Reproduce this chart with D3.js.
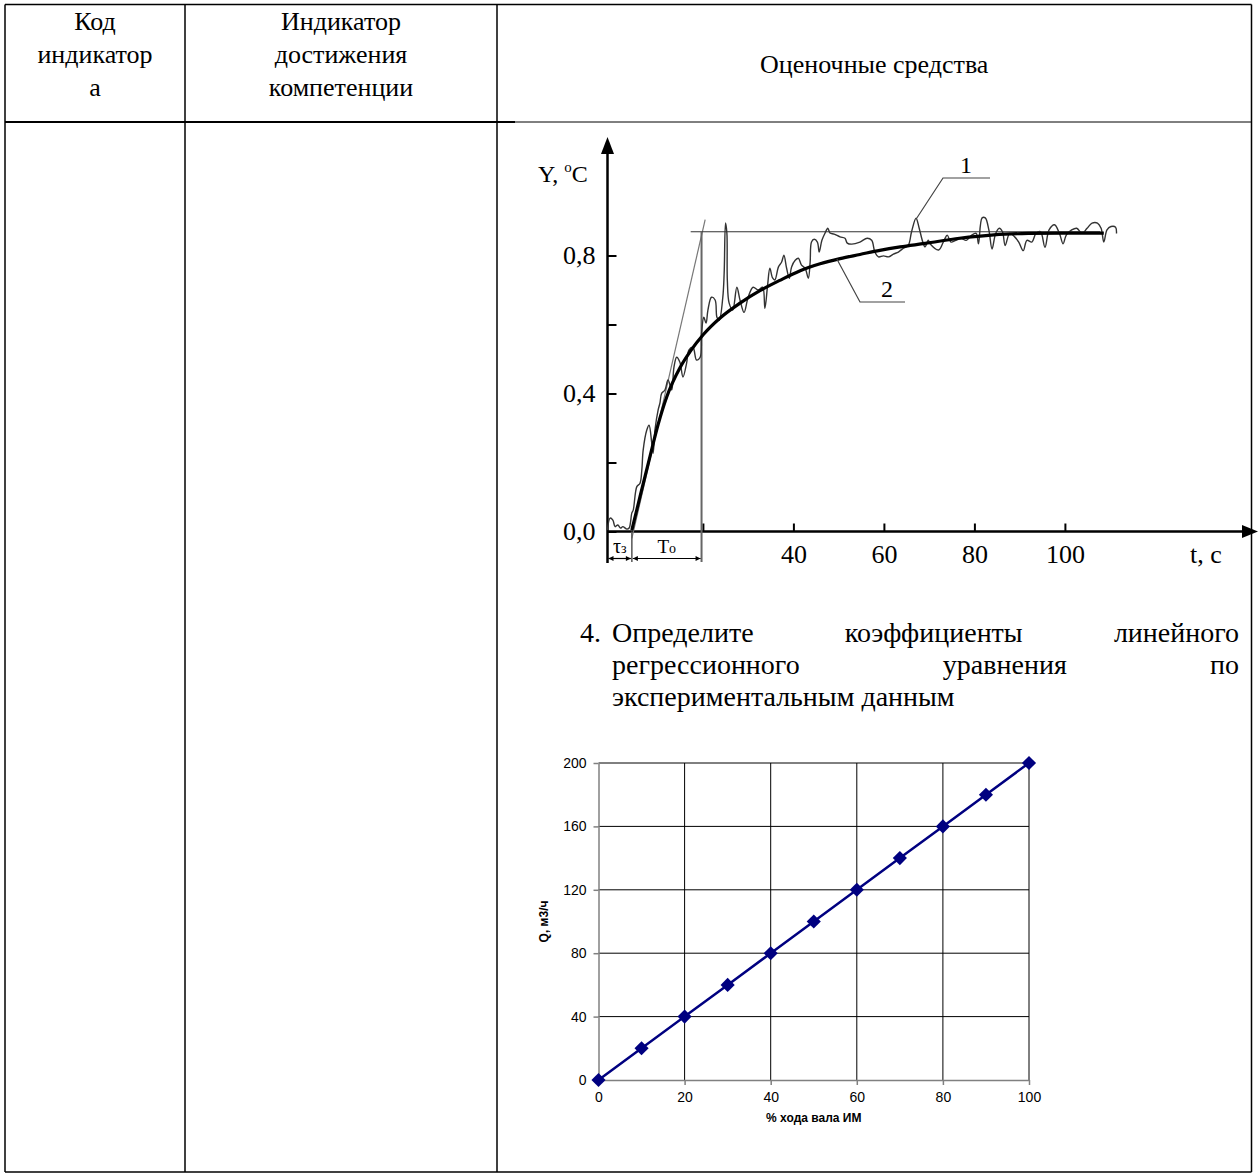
<!DOCTYPE html>
<html>
<head>
<meta charset="utf-8">
<script src="https://cdn.jsdelivr.net/npm/d3@7"></script>
<style>
body{margin:0;background:#fff}
svg{display:block}
</style>
</head>
<body>
<svg id="page" width="1259" height="1176"></svg>
<script>
// ---------- data ----------
var headCells = [["Код", "индикатор", "а"], ["Индикатор", "достижения", "компетенции"], ["Оценочные средства"]];

// transient response: noisy record (1) and smoothed curve (2)
var noisyT = [-1.1,-0.5,0.1,0.6,1.2,1.8,2.3,3.2,3.7,4.3,4.6,5.4,6.1,6.5,6.8,7.6,8.1,8.7,9.0,9.4,10.1,10.5,10.9,11.6,12.3,13.1,13.6,14.2,14.9,15.6,16.4,16.9,17.8,18.6,19.4,19.7,20.2,20.7,21.1,21.9,22.7,23.1,23.6,24.4,24.7,25.0,25.3,25.4,25.8,26.6,27.5,28.2,29.1,30.0,31.1,32.2,33.2,33.7,34.3,34.8,35.4,35.9,36.7,37.4,37.9,38.5,39.1,39.6,40.4,41.1,41.8,42.6,43.3,43.7,44.0,44.6,45.3,45.7,46.3,47.0,47.6,48.1,49.0,50.3,51.4,51.9,52.9,54.7,56.3,57.3,58.0,58.8,59.9,61.0,62.1,63.2,64.3,65.4,66.1,67.1,67.8,68.6,69.1,69.8,70.2,72.1,73.3,74.0,74.8,75.9,77.1,78.2,79.4,80.4,80.9,81.7,82.4,83.2,83.9,84.7,85.5,86.2,86.8,87.8,88.9,89.8,90.8,91.6,92.7,93.6,94.6,95.6,96.5,97.7,98.8,99.6,100.3,101.5,102.6,103.8,104.9,106.0,107.2,108.0,108.6,109.3,110.2,111.2,111.4];
var noisyY = [0.004,0.039,0.033,0.014,0.019,0.010,0.014,0.007,0.010,0.054,0.062,0.130,0.140,0.178,0.236,0.294,0.308,0.256,0.227,0.294,0.352,0.372,0.401,0.410,0.439,0.410,0.476,0.505,0.491,0.448,0.488,0.526,0.534,0.497,0.505,0.575,0.621,0.604,0.641,0.679,0.671,0.621,0.612,0.679,0.749,0.894,0.865,0.728,0.662,0.642,0.708,0.671,0.635,0.679,0.708,0.700,0.708,0.647,0.714,0.763,0.735,0.729,0.767,0.781,0.801,0.763,0.734,0.767,0.786,0.792,0.772,0.763,0.734,0.781,0.839,0.847,0.839,0.810,0.844,0.865,0.879,0.865,0.862,0.854,0.850,0.836,0.833,0.839,0.850,0.844,0.810,0.796,0.799,0.796,0.804,0.810,0.821,0.830,0.868,0.908,0.879,0.839,0.825,0.844,0.834,0.816,0.844,0.859,0.839,0.844,0.849,0.844,0.859,0.864,0.834,0.909,0.909,0.874,0.819,0.864,0.879,0.869,0.829,0.864,0.854,0.839,0.814,0.844,0.839,0.864,0.869,0.824,0.874,0.889,0.864,0.834,0.859,0.874,0.879,0.864,0.879,0.894,0.894,0.879,0.839,0.874,0.884,0.882,0.864];
var smoothT = [4.3,6.1,8.3,10.1,12.0,14.9,17.2,20.1,23.8,28.2,32.6,37.0,41.5,45.9,50.3,54.7,59.1,63.6,69.1,76.7,84.3,91.9,99.6,108.6];
var smoothY = [0.004,0.101,0.217,0.310,0.390,0.474,0.522,0.571,0.619,0.662,0.698,0.728,0.756,0.776,0.791,0.803,0.815,0.825,0.835,0.850,0.860,0.864,0.865,0.865];
var tangentT = [4.3, 20.5];
var tangentY = [-0.02, 0.904];
var steadyT = [17.3, 107.8];
var steadyY = 0.869;
var tauT = 4.3;     // dead time end
var t0EndT = 19.7;  // tau + T0
var tTicks = [20, 40, 60, 80, 100];
var tTickText = ["", "40", "60", "80", "100"];
var yTicks = [0, 0.2, 0.4, 0.6, 0.8];
var yTickText = ["0,0", "", "0,4", "", "0,8"];

var questionNo = "4.";
var questionLines = [["Определите", "коэффициенты", "линейного"], ["регрессионного", "уравнения", "по"], ["экспериментальным данным"]];

// valve characteristic
var strokePct = [0, 10, 20, 30, 40, 50, 60, 70, 80, 90, 100];
var flowQ = [0, 20, 40, 60, 80, 100, 120, 140, 160, 180, 200];
var pctTicks = [0, 20, 40, 60, 80, 100];
var qTicks = [0, 40, 80, 120, 160, 200];

// ---------- layout ----------
var serif = "'Liberation Serif','Times New Roman',serif";
var sans = "'Liberation Sans',Arial,sans-serif";
var svg = d3.select("#page");
var colEdges = [5, 185, 497, 1251.5];
var rowTop = 4.5, headBottom = 122, rowBottom = 1172;

// ---------- table ----------
var tbl = svg.append("g").attr("stroke", "#000").attr("stroke-width", 1.5);
colEdges.forEach(function(x){
	tbl.append("line").attr("x1", x).attr("x2", x).attr("y1", rowTop).attr("y2", rowBottom);
});
tbl.append("line").attr("x1", colEdges[0]).attr("x2", colEdges[3]).attr("y1", rowTop).attr("y2", rowTop);
tbl.append("line").attr("x1", colEdges[0]).attr("x2", colEdges[3]).attr("y1", rowBottom).attr("y2", rowBottom);
tbl.append("line").attr("x1", colEdges[0]).attr("x2", 515).attr("y1", headBottom).attr("y2", headBottom).attr("stroke-width", 2);
tbl.append("line").attr("x1", 515).attr("x2", colEdges[3]).attr("y1", headBottom).attr("y2", headBottom).attr("stroke-width", 1);

var head = svg.append("g").attr("font-family", serif).attr("font-size", 26).attr("text-anchor", "middle");
headCells.forEach(function(lines, i){
	var cx = (colEdges[i] + colEdges[i + 1]) / 2;
	var y0 = lines.length == 1 ? 73 : 30;
	head.selectAll(null).data(lines).enter().append("text")
		.attr("x", cx).attr("y", function(d, j){ return y0 + j * 33; })
		.text(function(d){ return d; });
});

// ---------- chart 1: transient response ----------
var x1 = d3.scaleLinear().domain([0, 100]).range([612.4, 1064.9]);
var y1 = d3.scaleLinear().domain([0, 0.8]).range([531.5, 255.5]);
var ax = 607.5;
var ch1 = svg.append("g").attr("font-family", serif);

ch1.append("g").attr("transform", "translate(0," + y1(0) + ")")
	.call(d3.axisBottom(x1).tickValues(tTicks).tickSizeInner(-8).tickSizeOuter(0).tickPadding(13)
		.tickFormat(function(d){ return tTickText[tTicks.indexOf(d)]; }))
	.call(function(g){ g.select(".domain").remove(); })
	.call(function(g){ g.selectAll("line").attr("stroke", "#000").attr("stroke-width", 2); })
	.call(function(g){ g.selectAll("text").attr("font-family", serif).attr("font-size", 26).attr("fill", "#000"); });

ch1.append("g").attr("transform", "translate(" + ax + ",0)")
	.call(d3.axisLeft(y1).tickValues(yTicks).tickSizeInner(-9).tickSizeOuter(0).tickPadding(12)
		.tickFormat(function(d){ return yTickText[yTicks.indexOf(d)]; }))
	.call(function(g){ g.select(".domain").remove(); })
	.call(function(g){ g.selectAll("line").attr("stroke", "#000").attr("stroke-width", 2); })
	.call(function(g){ g.selectAll("text").attr("font-family", serif).attr("font-size", 26).attr("fill", "#000"); });

// axis lines with arrows
ch1.append("line").attr("x1", ax).attr("x2", 1244).attr("y1", y1(0)).attr("y2", y1(0))
	.attr("stroke", "#000").attr("stroke-width", 2.5);
ch1.append("path").attr("d", "M1258," + y1(0) + "l-16,-6.5v13z").attr("fill", "#000");
ch1.append("line").attr("x1", ax).attr("x2", ax).attr("y1", 563).attr("y2", 152)
	.attr("stroke", "#000").attr("stroke-width", 2.5);
ch1.append("path").attr("d", "M" + ax + ",137l-6.5,17h13z").attr("fill", "#000");

var line1 = d3.line().x(function(d){ return x1(d[0]); }).y(function(d){ return y1(d[1]); });

// tangent, steady level, T0 marker
ch1.append("path").datum(d3.zip(tangentT, tangentY)).attr("d", line1)
	.attr("fill", "none").attr("stroke", "#777").attr("stroke-width", 1.2);
ch1.append("path").datum(steadyT.map(function(t){ return [t, steadyY]; })).attr("d", line1)
	.attr("fill", "none").attr("stroke", "#333").attr("stroke-width", 1.1);
ch1.append("line").attr("x1", x1(t0EndT)).attr("x2", x1(t0EndT)).attr("y1", y1(steadyY)).attr("y2", 562)
	.attr("stroke", "#666").attr("stroke-width", 2);
ch1.append("line").attr("x1", x1(tauT)).attr("x2", x1(tauT)).attr("y1", y1(0)).attr("y2", 562)
	.attr("stroke", "#555").attr("stroke-width", 1.5);

// curves
ch1.append("path").datum(d3.zip(noisyT, noisyY)).attr("d", line1.curve(d3.curveCatmullRom.alpha(0.5)))
	.attr("fill", "none").attr("stroke", "#333").attr("stroke-width", 1.4);
ch1.append("path").datum(d3.zip(smoothT, smoothY)).attr("d", d3.line().x(function(d){ return x1(d[0]); }).y(function(d){ return y1(d[1]); }).curve(d3.curveMonotoneX))
	.attr("fill", "none").attr("stroke", "#000").attr("stroke-width", 3.2);

// tau / T0 dimension arrows
var defs = svg.append("defs");
defs.append("marker").attr("id", "ah").attr("viewBox", "0 0 10 10").attr("refX", 10).attr("refY", 5)
	.attr("markerWidth", 7).attr("markerHeight", 5).attr("markerUnits", "userSpaceOnUse").attr("orient", "auto-start-reverse")
	.append("path").attr("d", "M0,0L10,5L0,10z").attr("fill", "#000");
var dimY = 558.5;
[[ax, x1(tauT)], [x1(tauT), x1(t0EndT)]].forEach(function(p){
	ch1.append("line").attr("x1", p[0] + 1).attr("x2", p[1] - 1).attr("y1", dimY).attr("y2", dimY)
		.attr("stroke", "#000").attr("stroke-width", 1.2)
		.attr("marker-start", "url(#ah)").attr("marker-end", "url(#ah)");
});
var tauLbl = ch1.append("text").attr("x", (ax + x1(tauT)) / 2).attr("y", 553).attr("text-anchor", "middle");
tauLbl.append("tspan").attr("font-size", 20).text("τ");
tauLbl.append("tspan").attr("font-size", 14).text("з");
var t0Lbl = ch1.append("text").attr("x", (x1(tauT) + x1(t0EndT)) / 2).attr("y", 553).attr("text-anchor", "middle");
t0Lbl.append("tspan").attr("font-size", 19).text("T");
t0Lbl.append("tspan").attr("font-size", 14).text("о");

// axis titles
var yLbl = ch1.append("text").attr("x", 538).attr("y", 182).attr("font-size", 24);
yLbl.append("tspan").text("Y, ");
yLbl.append("tspan").attr("font-size", 15).attr("dy", -10).text("o");
yLbl.append("tspan").attr("dy", 10).text("C");
ch1.append("text").attr("x", 1190).attr("y", 563).attr("font-size", 26).text("t, c");

// curve callouts
var call1 = [x1(67.1), y1(0.905)], call2 = [x1(49.6), y1(0.79)];
ch1.append("path").attr("d", "M" + call1[0] + "," + call1[1] + "L943,178H990")
	.attr("fill", "none").attr("stroke", "#444").attr("stroke-width", 1.2);
ch1.append("text").attr("x", 966).attr("y", 173).attr("font-size", 24).attr("text-anchor", "middle").text("1");
ch1.append("path").attr("d", "M" + call2[0] + "," + call2[1] + "L860,302H905")
	.attr("fill", "none").attr("stroke", "#444").attr("stroke-width", 1.2);
ch1.append("text").attr("x", 887).attr("y", 297).attr("font-size", 24).attr("text-anchor", "middle").text("2");

// ---------- question text (justified) ----------
var qg = svg.append("g").attr("font-family", serif).attr("font-size", 28);
qg.append("text").attr("x", 580).attr("y", 642).text(questionNo);
var qLeft = 612, qRight = 1239;
questionLines.forEach(function(words, i){
	var y = 642 + i * 32;
	var ts = qg.selectAll(null).data(words).enter().append("text").attr("y", y).text(function(d){ return d; });
	var widths = ts.nodes().map(function(n){ return n.getComputedTextLength(); });
	var last = i == questionLines.length - 1;
	var gap = (words.length > 1 && !last) ? (qRight - qLeft - d3.sum(widths)) / (words.length - 1) : 8;
	var pos = qLeft;
	ts.attr("x", function(d, j){ var p = pos; pos += widths[j] + gap; return p; });
});

// ---------- chart 2: valve flow characteristic ----------
var x2 = d3.scaleLinear().domain([0, 100]).range([598.5, 1029]);
var y2 = d3.scaleLinear().domain([0, 200]).range([1080, 763]);
var ch2 = svg.append("g").attr("font-family", sans);

ch2.append("g").selectAll("line").data(pctTicks.slice(1)).enter().append("line")
	.attr("x1", x2).attr("x2", x2).attr("y1", y2(0)).attr("y2", y2(200))
	.attr("stroke", "#000").attr("stroke-width", 1);
ch2.append("g").selectAll("line").data(qTicks.slice(1)).enter().append("line")
	.attr("x1", x2(0)).attr("x2", x2(100)).attr("y1", y2).attr("y2", y2)
	.attr("stroke", "#000").attr("stroke-width", 1);

ch2.append("g").attr("transform", "translate(0," + y2(0) + ")")
	.call(d3.axisBottom(x2).tickValues(pctTicks).tickSizeInner(5).tickSizeOuter(0).tickPadding(7))
	.call(function(g){ g.selectAll("path,line").attr("stroke", "#808080").attr("stroke-width", 1.5); })
	.call(function(g){ g.selectAll("text").attr("font-family", sans).attr("font-size", 14).attr("fill", "#000"); });
ch2.append("g").attr("transform", "translate(" + x2(0) + ",0)")
	.call(d3.axisLeft(y2).tickValues(qTicks).tickSizeInner(5).tickSizeOuter(0).tickPadding(7))
	.call(function(g){ g.selectAll("path,line").attr("stroke", "#808080").attr("stroke-width", 1.5); })
	.call(function(g){ g.selectAll("text").attr("font-family", sans).attr("font-size", 14).attr("fill", "#000"); });

var pts = d3.zip(strokePct, flowQ);
ch2.append("path").datum(pts)
	.attr("d", d3.line().x(function(d){ return x2(d[0]); }).y(function(d){ return y2(d[1]); }))
	.attr("fill", "none").attr("stroke", "#000080").attr("stroke-width", 2.5);
ch2.append("g").selectAll("path").data(pts).enter().append("path")
	.attr("d", d3.symbol().type(d3.symbolSquare).size(100))
	.attr("transform", function(d){ return "translate(" + x2(d[0]) + "," + y2(d[1]) + ") rotate(45)"; })
	.attr("fill", "#000080");

ch2.append("text").attr("x", (x2(0) + x2(100)) / 2).attr("y", 1122).attr("text-anchor", "middle")
	.attr("font-size", 12).attr("font-weight", "bold").text("% хода вала ИМ");
ch2.append("text").attr("transform", "translate(548," + y2(100) + ") rotate(-90)").attr("text-anchor", "middle")
	.attr("font-size", 12).attr("font-weight", "bold").text("Q, м3/ч");
</script>
</body>
</html>
